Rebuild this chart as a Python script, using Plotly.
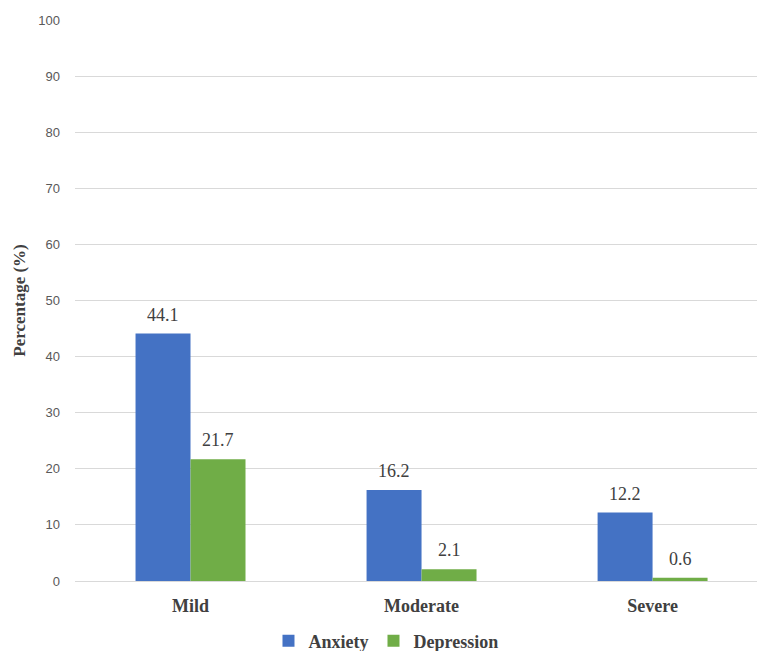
import plotly.graph_objects as go

categories = ["Mild", "Moderate", "Severe"]
anxiety = [44.1, 16.2, 12.2]
depression = [21.7, 2.1, 0.6]
series_names = ["Anxiety", "Depression"]
y_ticks = [0, 10, 20, 30, 40, 50, 60, 70, 80, 90, 100]

blue = "#4472C4"
green = "#70AD47"
serif = "Liberation Serif"

fig = go.Figure()
fig.add_trace(go.Bar(x=categories, y=anxiety, name=series_names[0], marker_color=blue,
                     marker_line_width=0))
fig.add_trace(go.Bar(x=categories, y=depression, name=series_names[1], marker_color=green,
                     marker_line_width=0))

# data labels
for vals, off in ((anxiety, -0.119), (depression, 0.119)):
    for i, v in enumerate(vals):
        fig.add_annotation(x=i + off, y=v, text=f"{v}", showarrow=False,
                           yanchor="bottom", yshift=7, xref="x", yref="y",
                           font=dict(family=serif, size=18, color="#404040"))

fig.update_layout(
    width=757, height=651,
    margin=dict(l=75, r=0, t=20, b=70, autoexpand=False),
    paper_bgcolor="white", plot_bgcolor="white",
    barmode="group", bargap=0.524, bargroupgap=0,
    showlegend=True,
    legend=dict(orientation="h", xref="paper", yref="paper",
                x=0.456, xanchor="center", y=-0.107, yanchor="middle",
                font=dict(family=serif, size=18, color="#404040", weight="bold"),
                traceorder="normal"),
    xaxis=dict(range=[-0.5, 2.452], showgrid=False, showline=True, automargin=False,
               linecolor="#d9d9d9", linewidth=1, ticks="",
               ticklabelstandoff=8,
               tickfont=dict(family=serif, size=18, color="#404040", weight="bold")),
    yaxis=dict(range=[0, 100], tickvals=y_ticks, showgrid=True, automargin=False,
               gridcolor="#d9d9d9", gridwidth=1, zeroline=False, showline=False,
               ticks="", ticklabelstandoff=14,
               tickfont=dict(family="Liberation Sans", size=13, color="#595959"),
               title=dict(text="Percentage (%)", standoff=8,
                          font=dict(family=serif, size=17, color="#404040", weight="bold"))),
)

fig.write_html("out.html")
